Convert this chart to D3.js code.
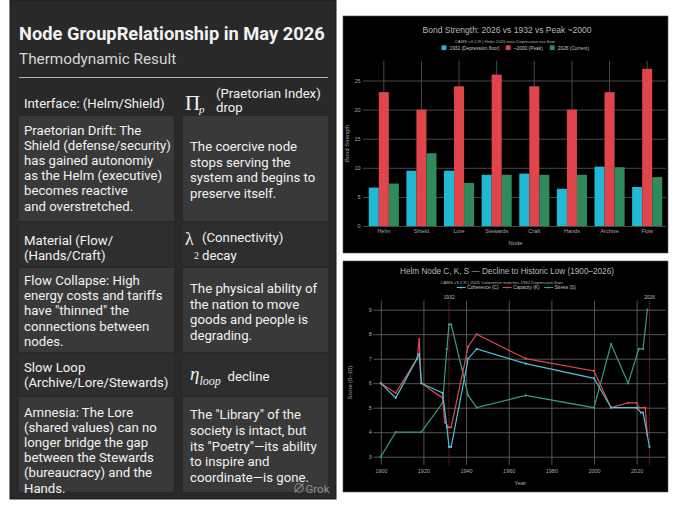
<!DOCTYPE html>
<html>
<head>
<meta charset="utf-8">
<script src="https://cdn.jsdelivr.net/npm/d3@7"></script>
<style>
body { margin: 0; background: #fff; }
svg { display: block; }
.card text { font-family: Roboto, "Noto Sans", sans-serif; fill: #f2f2f2; }
.plot text { font-family: "Liberation Sans", Arial, sans-serif; }
</style>
</head>
<body>
<svg id="chart" width="680" height="510"></svg>
<script>
// bond strength per node
var nodes = ["Helm", "Shield", "Lore", "Stewards", "Craft", "Hands", "Archive", "Flow"];
var bond1932 = [6.6, 9.5, 9.5, 8.8, 9.0, 6.4, 10.2, 6.7];
var bondPeak = [23, 20, 24, 26, 24, 20, 23, 27];
var bond2026 = [7.3, 12.5, 7.4, 8.8, 8.8, 8.8, 10.1, 8.4];
var bondTicks = [0, 5, 10, 15, 20, 25];
var bondNames = ["1932 (Depression floor)", "~2000 (Peak)", "2026 (Current)"];

// helm node history, 1900-2026
var cYears = [1900, 1907, 1917, 1918, 1919, 1929, 1931, 1932, 1933, 1941, 1945, 1968, 2000, 2008, 2020, 2022, 2023, 2026];
var cVals  = [6.0, 5.4, 7.0, 7.2, 6.0, 5.6, 4.2, 3.4, 3.4, 7.0, 7.4, 6.8, 6.2, 5.0, 5.0, 4.8, 4.8, 3.4];
var kYears = [1900, 1907, 1917, 1918, 1919, 1929, 1930, 1932, 1933, 1941, 1945, 1968, 2000, 2008, 2016, 2020, 2021, 2024, 2025];
var kVals  = [6.0, 5.6, 7.0, 7.8, 6.0, 5.4, 4.4, 4.2, 4.2, 7.5, 8.0, 7.0, 6.5, 5.0, 5.2, 5.2, 5.0, 5.0, 3.9];
var sYears = [1900, 1907, 1919, 1929, 1931, 1932, 1933, 1938, 1941, 1945, 1968, 2000, 2008, 2016, 2021, 2023, 2025];
var sVals  = [3.0, 4.0, 4.0, 5.2, 7.4, 8.4, 8.4, 6.6, 5.5, 5.0, 5.5, 5.0, 7.6, 6.0, 7.4, 7.4, 9.0];
var yearTicks = [1900, 1920, 1940, 1960, 1980, 2000, 2020];
var scoreTicks = [3, 4, 5, 6, 7, 8, 9];
var markYears = [1932, 2026];
var lineNames = ["Coherence (C)", "Capacity (K)", "Stress (S)"];

// table text
var headLeft = [
    ["Interface: (Helm/Shield)"],
    ["Material (Flow/", "(Hands/Craft)"],
    ["Slow Loop", "(Archive/Lore/Stewards)"]
];
var bodyLeft = [
    ["Praetorian Drift: The", "Shield (defense/security)", "has gained autonomiy", "as the Helm (executive)", "becomes reactive", "and overstretched."],
    ["Flow Collapse: High", "energy costs and tariffs", "have \"thinned\" the", "connections between", "nodes."],
    ["Amnesia: The Lore", "(shared values) can no", "longer bridge the gap", "between the Stewards", "(bureaucracy) and the", "Hands."]
];
var bodyRight = [
    ["The coercive node", "stops serving the", "system and begins to", "preserve itself."],
    ["The physical ability of", "the nation to move", "goods and people is", "degrading."],
    ["The \"Library\" of the", "society is intact, but", "its \"Poetry\"\u2014its ability", "to inspire and", "coordinate\u2014is gone."]
];

var svg = d3.select("#chart");
var fs = 13.2;

// ---------- left card ----------
var card = svg.append("g").attr("class", "card");
card.append("rect").attr("x", 10).attr("y", 0).attr("width", 326).attr("height", 499)
    .attr("fill", "#292929").attr("stroke", "#1c1c1c");

card.append("text").attr("x", 19).attr("y", 39.5)
    .attr("font-size", 18.3).attr("font-weight", 700).text("Node GroupRelationship in May 2026");
card.append("text").attr("x", 19).attr("y", 64)
    .attr("font-size", 15.3).style("fill", "#d6d6d6").text("Thermodynamic Result");
card.append("line").attr("x1", 19).attr("x2", 328).attr("y1", 77.5).attr("y2", 77.5)
    .attr("stroke", "#b5b5b5").attr("stroke-width", 1);

// cell boxes [top, bottom] for header and body rows
var headBox = [[86, 114], [223, 266], [354, 395]];
var bodyBox = [[116, 221], [268, 352], [397, 492]];
headBox.forEach(function(b, i) {
    if (i > 0) {
        card.append("rect").attr("x", 19).attr("y", b[0]).attr("width", 155).attr("height", b[1] - b[0]).attr("fill", "#2e2e2e");
        card.append("rect").attr("x", 183).attr("y", b[0]).attr("width", 145).attr("height", b[1] - b[0]).attr("fill", "#2e2e2e");
    }
});
bodyBox.forEach(function(b) {
    card.append("rect").attr("x", 19).attr("y", b[0]).attr("width", 155).attr("height", b[1] - b[0]).attr("fill", "#393939");
    card.append("rect").attr("x", 183).attr("y", b[0]).attr("width", 145).attr("height", b[1] - b[0]).attr("fill", "#393939");
});

function lines(arr, x, y0, lh) {
    arr.forEach(function(t, i) {
        card.append("text").attr("x", x).attr("y", y0 + i * lh).attr("font-size", fs).text(t);
    });
}

var headY = [107.5, 245, 371.5];
headLeft.forEach(function(h, i) { lines(h, 24, headY[i], 15); });

var bodyLeftY = [134.5, 285, 416.5];
var bodyRightY = [150.7, 292.7, 419];
bodyLeft.forEach(function(b, i) { lines(b, 24, bodyLeftY[i], 15.2); });
bodyRight.forEach(function(b, i) { lines(b, 190, bodyRightY[i], 15.8); });

// symbols in the right header cells
var serif = "'Liberation Serif', 'DejaVu Serif', serif";
card.append("text").attr("x", 185).attr("y", 110).attr("font-size", 21).style("font-family", serif).text("\u03A0");
card.append("text").attr("x", 199).attr("y", 112.5).attr("font-size", 11).style("font-family", serif).attr("font-style", "italic").text("p");
card.append("text").attr("x", 216).attr("y", 97.5).attr("font-size", fs).text("(Praetorian Index)");
card.append("text").attr("x", 216).attr("y", 112).attr("font-size", fs).text("drop");

card.append("text").attr("x", 185).attr("y", 245).attr("font-size", 18).style("font-family", serif).text("\u03BB");
card.append("text").attr("x", 194).attr("y", 258.5).attr("font-size", 10).style("font-family", serif).text("2");
card.append("text").attr("x", 202).attr("y", 241.5).attr("font-size", fs).text("(Connectivity)");
card.append("text").attr("x", 202).attr("y", 259.5).attr("font-size", fs).text("decay");

card.append("text").attr("x", 190).attr("y", 380).attr("font-size", 19).style("font-family", serif).attr("font-style", "italic").text("\u03B7");
card.append("text").attr("x", 199.5).attr("y", 385).attr("font-size", 12).style("font-family", serif).attr("font-style", "italic").text("loop");
card.append("text").attr("x", 227.5).attr("y", 380.5).attr("font-size", fs).text("decline");

// watermark
card.append("circle").attr("cx", 299).attr("cy", 488).attr("r", 4.2)
    .attr("fill", "none").attr("stroke", "#8a8a8a").attr("stroke-width", 1.1);
card.append("line").attr("x1", 294.5).attr("y1", 492.5).attr("x2", 303.5).attr("y2", 483.5)
    .attr("stroke", "#8a8a8a").attr("stroke-width", 1.1);
card.append("text").attr("x", 305.5).attr("y", 492.5).attr("font-size", 11.5).style("fill", "#8f8f8f").text("Grok");

// ---------- shared axis styling ----------
function styleAxis(g, size) {
    g.select(".domain").remove();
    g.selectAll(".tick line").attr("stroke", "#5a5a5a").attr("stroke-width", 0.8);
    g.selectAll(".tick text").attr("fill", "#a8a8a8").attr("font-size", size)
        .style("font-family", "'Liberation Sans', Arial, sans-serif");
}

// ---------- bar chart ----------
var bar = svg.append("g").attr("class", "plot");
bar.append("rect").attr("x", 343).attr("y", 16).attr("width", 325).attr("height", 237)
    .attr("fill", "#000").attr("stroke", "#555").attr("stroke-width", 0.6);

var bLeft = 365, bRight = 666, bTop = 60.7, bBottom = 226;
var xB = d3.scaleBand().domain(nodes).range([bLeft, bRight]);
var xS = d3.scaleBand().domain([0, 1, 2]).range([xB.bandwidth() * 0.1, xB.bandwidth() * 0.9]);
var yB = d3.scaleLinear().domain([0, 28.4]).range([bBottom, bTop]);
var barSeries = [bond1932, bondPeak, bond2026];
var barColors = ["#22b8d4", "#e0454b", "#2f8a5c"];

var gyB = bar.append("g").attr("transform", "translate(" + (bLeft - 2) + ",0)")
    .call(d3.axisLeft(yB).tickValues(bondTicks).tickSize(-(bRight - bLeft + 2)).tickPadding(2.5));
styleAxis(gyB, 5.5);

var gxB = bar.append("g").attr("transform", "translate(0," + bBottom + ")")
    .call(d3.axisBottom(xB).tickSize(-(bBottom - bTop)).tickPadding(3.5));
styleAxis(gxB, 5.5);

barSeries.forEach(function(vals, s) {
    bar.selectAll(".bar" + s)
        .data(vals)
        .enter().append("rect")
        .attr("x", function(d, i) { return xB(nodes[i]) + xS(s); })
        .attr("width", xS.bandwidth())
        .attr("y", function(d) { return yB(d); })
        .attr("height", function(d) { return bBottom - yB(d); })
        .attr("fill", barColors[s]);
});

bar.append("text").attr("x", 507).attr("y", 33).attr("text-anchor", "middle")
    .attr("font-size", 8.5).attr("fill", "#b8b8b8").text("Bond Strength: 2026 vs 1932 vs Peak ~2000");
bar.append("text").attr("x", 505).attr("y", 43.3).attr("text-anchor", "middle")
    .attr("font-size", 4.3).attr("fill", "#b0b0b0").text("CAMS v3.2-R | Helm 2026 near Depression-era floor");
var barLegX = [441.5, 505.8, 549.8];
bondNames.forEach(function(n, i) {
    bar.append("rect").attr("x", barLegX[i]).attr("y", 45.3).attr("width", 4.8).attr("height", 4.8).attr("fill", barColors[i]);
    bar.append("text").attr("x", barLegX[i] + 8).attr("y", 49.5).attr("font-size", 4.8).attr("fill", "#c4c4c4").text(n);
});
bar.append("text").attr("x", 515.5).attr("y", 245).attr("text-anchor", "middle")
    .attr("font-size", 5.8).attr("fill", "#a8a8a8").text("Node");
bar.append("text").attr("transform", "translate(349," + ((bTop + bBottom) / 2) + ") rotate(-90)")
    .attr("text-anchor", "middle").attr("font-size", 5.8).attr("fill", "#a8a8a8").text("Bond Strength");

// ---------- line chart ----------
var ln = svg.append("g").attr("class", "plot");
ln.append("rect").attr("x", 343).attr("y", 261).attr("width", 325).attr("height", 231)
    .attr("fill", "#000").attr("stroke", "#555").attr("stroke-width", 0.6);

var lLeft = 373.3, lRight = 666, lTop = 300.7, lBottom = 464.7;
var xL = d3.scaleLinear().domain([1896.5, 2033.75]).range([lLeft, lRight]);
var yL = d3.scaleLinear().domain([2.673, 9.367]).range([lBottom, lTop]);

var gyL = ln.append("g").attr("transform", "translate(" + lLeft + ",0)")
    .call(d3.axisLeft(yL).tickValues(scoreTicks).tickFormat(d3.format("d")).tickSize(-(lRight - lLeft)).tickPadding(1.5));
styleAxis(gyL, 5.5);
gyL.selectAll(".tick line").attr("stroke", "#6a6a6a");

var gxL = ln.append("g").attr("transform", "translate(0," + lBottom + ")")
    .call(d3.axisBottom(xL).tickValues(yearTicks).tickFormat(d3.format("d")).tickSize(-(lBottom - lTop)).tickPadding(4.5));
styleAxis(gxL, 5.5);
gxL.selectAll(".tick line").attr("stroke", "#6a6a6a");

// reference years
markYears.forEach(function(yr) {
    ln.append("line").attr("x1", xL(yr)).attr("x2", xL(yr)).attr("y1", lTop).attr("y2", lBottom)
        .attr("stroke", "#d9454b").attr("stroke-width", 0.8).attr("stroke-dasharray", "1,1.2");
    ln.append("text").attr("x", xL(yr)).attr("y", 298.8).attr("text-anchor", "middle")
        .attr("font-size", 4.8).attr("fill", "#bdbdbd").text(yr);
});

var lineSeries = [[cYears, cVals], [kYears, kVals], [sYears, sVals]];
var lineColors = ["#4fc0d8", "#df4a50", "#3e9a74"];
var drawOrder = [2, 1, 0];
drawOrder.forEach(function(s) {
    var pts = d3.zip(lineSeries[s][0], lineSeries[s][1]);
    var path = d3.line().x(function(d) { return xL(d[0]); }).y(function(d) { return yL(d[1]); });
    ln.append("path").datum(pts).attr("d", path)
        .attr("fill", "none").attr("stroke", lineColors[s]).attr("stroke-width", 1.2);
    ln.selectAll(".pt" + s).data(pts).enter().append("circle")
        .attr("cx", function(d) { return xL(d[0]); })
        .attr("cy", function(d) { return yL(d[1]); })
        .attr("r", 1.1).attr("fill", lineColors[s]);
});

ln.append("text").attr("x", 507).attr("y", 273.8).attr("text-anchor", "middle")
    .attr("font-size", 8.2).attr("fill", "#b8b8b8").text("Helm Node C, K, S \u2014 Decline to Historic Low (1900\u20132026)");
ln.append("text").attr("x", 501.5).attr("y", 283.6).attr("text-anchor", "middle")
    .attr("font-size", 4.3).attr("fill", "#b0b0b0").text("CAMS v3.2-R | 2026 Coherence matches 1932 Depression floor");
var lineLegX = [456.7, 502.7, 544];
lineNames.forEach(function(n, i) {
    ln.append("line").attr("x1", lineLegX[i]).attr("x2", lineLegX[i] + 9).attr("y1", 287.5).attr("y2", 287.5)
        .attr("stroke", lineColors[i]).attr("stroke-width", 1);
    ln.append("circle").attr("cx", lineLegX[i] + 4.5).attr("cy", 287.5).attr("r", 1).attr("fill", lineColors[i]);
    ln.append("text").attr("x", lineLegX[i] + 10.5).attr("y", 289.2).attr("font-size", 4.8).attr("fill", "#c4c4c4").text(n);
});
ln.append("text").attr("x", 520).attr("y", 484.5).attr("text-anchor", "middle")
    .attr("font-size", 5.8).attr("fill", "#a8a8a8").text("Year");
ln.append("text").attr("transform", "translate(351.5," + ((lTop + lBottom) / 2) + ") rotate(-90)")
    .attr("text-anchor", "middle").attr("font-size", 5.8).attr("fill", "#a8a8a8").text("Score (0\u201310)");
</script>
</body>
</html>
